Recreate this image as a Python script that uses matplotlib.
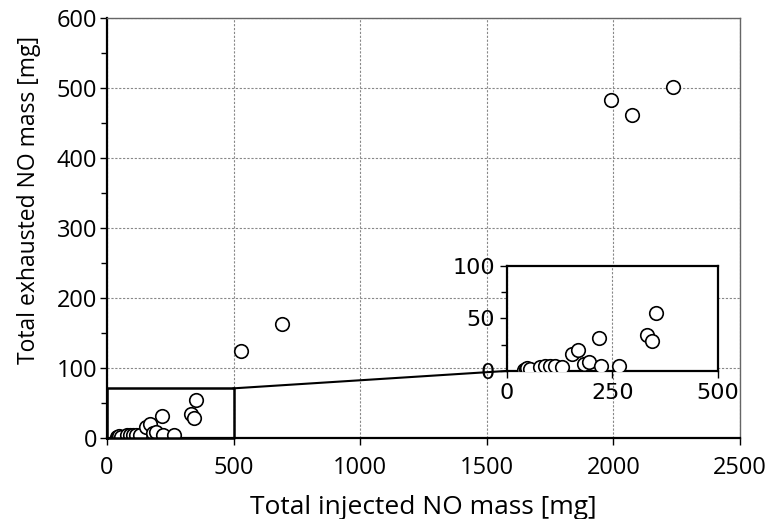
import numpy as np
import matplotlib
matplotlib.use("Agg")
import matplotlib.pyplot as plt
from matplotlib.ticker import MultipleLocator

# injected vs exhausted NO mass [mg]
injected = [40, 45, 48, 55, 78, 90, 102, 115, 130, 155, 169, 183, 194, 219, 223, 265,
            331, 343, 353, 530, 690, 1990, 2075, 2235]
exhausted = [1, 1.5, 2.5, 2, 4, 5, 5, 5, 4, 16, 20, 7, 9, 31, 5, 4.5,
             34, 29, 55, 124, 163, 483, 461, 501]

inset_xticks = [0, 250, 500]
inset_yticks = [0, 50, 100]

plt.rcParams['font.family'] = ['Open Sans', 'DejaVu Sans']

fig = plt.figure(figsize=(7.68, 5.19), dpi=100)
ax = fig.add_axes([0.1393, 0.156, 0.8242, 0.8093])

ax.scatter(injected, exhausted, s=95, facecolors='white', edgecolors='black',
           linewidths=1.2, zorder=3)
ax.set_xlim(0, 2500)
ax.set_ylim(0, 600)
ax.xaxis.set_major_locator(MultipleLocator(500))
ax.yaxis.set_major_locator(MultipleLocator(100))
ax.yaxis.set_minor_locator(MultipleLocator(50))
ax.grid(True, which='major', linestyle=(0, (2, 1.5)), color='#888888', linewidth=0.8)
ax.tick_params(axis='both', which='major', labelsize=17, length=5, width=1, direction='out')
ax.tick_params(axis='x', which='major', pad=8)
ax.tick_params(axis='y', which='major', pad=2)
ax.tick_params(axis='y', which='minor', length=4, width=1, direction='out')
for s in ['top', 'right']:
    ax.spines[s].set_color('#666666')
    ax.spines[s].set_linewidth(1)
for s in ['left', 'bottom']:
    ax.spines[s].set_linewidth(1.6)
ax.set_xlabel('Total injected NO mass [mg]', fontsize=19, labelpad=11)
ax.set_ylabel('Total exhausted NO mass [mg]', fontsize=16.5)
ax.yaxis.set_label_coords(-0.104, 0.567)

# zoom box and connecting line
box_top = 71
ax.plot([0, 500, 500, 0, 0], [0, 0, box_top, box_top, 0], color='black', lw=1.8, zorder=4,
        clip_on=False)
ax.plot([500, 1585], [box_top, 96], color='black', lw=1.5, zorder=4)

# inset
ins = fig.add_axes([0.660, 0.2852, 0.275, 0.2023])
ins.scatter(injected, exhausted, s=95, facecolors='white', edgecolors='black',
            linewidths=1.2, zorder=3)
ins.set_xlim(0, 500)
ins.set_ylim(0, 100)
ins.set_xticks(inset_xticks)
ins.set_yticks(inset_yticks)
ins.yaxis.set_minor_locator(MultipleLocator(25))
ins.xaxis.grid(True, linestyle=(0, (2, 1.5)), color='#888888', linewidth=0.8)
ins.set_axisbelow(True)
ins.tick_params(axis='both', which='major', labelsize=16, length=5, width=1, direction='out')
ins.tick_params(axis='y', which='minor', length=4, width=1, direction='out')
for lab in ins.get_xticklabels() + ins.get_yticklabels():
    lab.set_family('DejaVu Sans')
for s in ins.spines.values():
    s.set_linewidth(1.6)

fig.savefig('out.png', dpi=100)
